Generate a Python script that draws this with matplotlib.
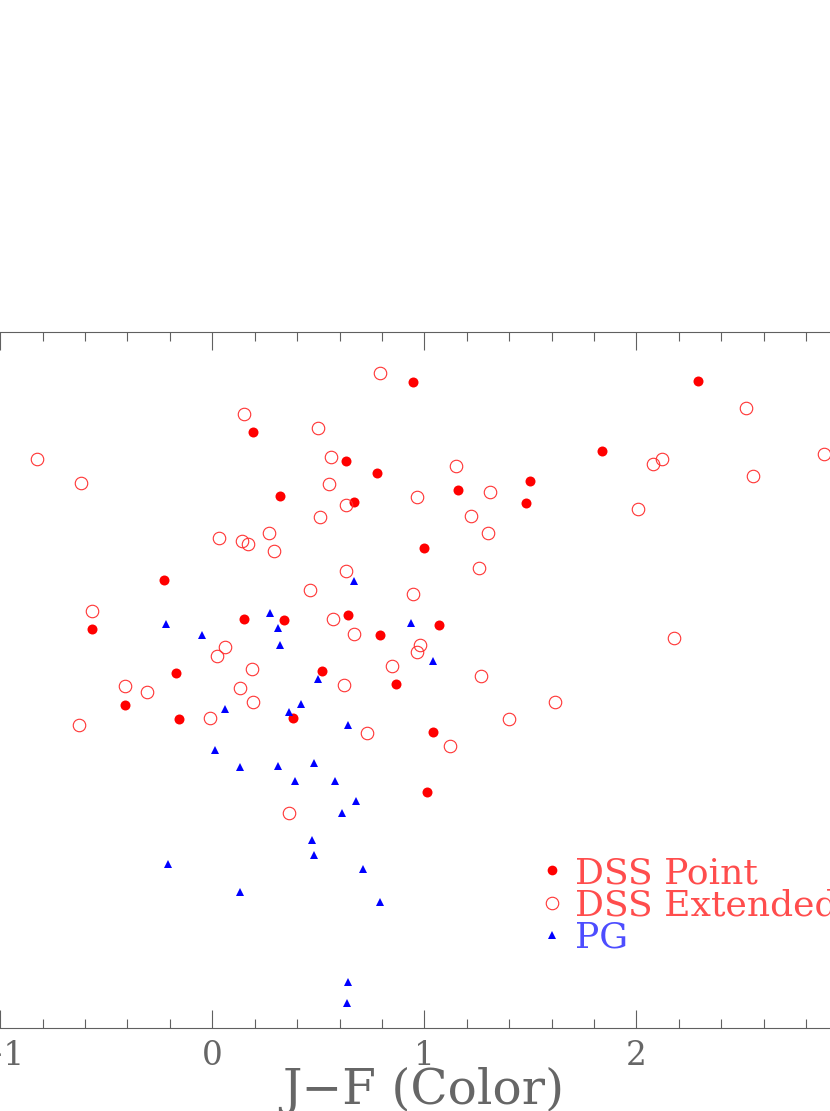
import numpy as np
import matplotlib
matplotlib.use("Agg")
import matplotlib.pyplot as plt

# DSS point sources (filled circles)
pt_x = [0.191, 0.631, 0.778, 0.321, 0.670, 0.948, 2.290, 1.840, 1.499, 1.159,
        1.480, 1.000, -0.229, -0.569, 0.151, 0.340, 0.640, 0.790, 1.069, 0.519,
        0.868, -0.170, -0.410, -0.158, 0.379, 1.040, 1.011]
pt_y = [8.563, 8.151, 7.970, 7.648, 7.562, 9.282, 9.296, 8.286, 7.864, 7.725,
        7.547, 6.901, 6.432, 5.737, 5.872, 5.862, 5.930, 5.642, 5.786, 5.134,
        4.947, 5.101, 4.641, 4.440, 4.450, 4.257, 3.391]

# DSS extended sources (open circles)
ext_x = [-0.828, -0.619, 0.150, 0.500, 0.558, 0.549, 0.629, 0.790, 0.964, 0.509,
         2.517, 1.150, 2.120, 2.079, 2.887, 2.549, 1.310, 2.008, 1.219, 0.030,
         0.140, 0.170, 0.269, 0.290, 0.629, 0.459, 0.949, -0.569, 0.571, 0.670,
         0.060, 0.021, 0.189, 0.849, 0.980, 0.964, 0.620, -0.410, -0.309, 0.131,
         0.191, -0.011, -0.630, 0.730, 1.300, 1.259, 2.179, 1.269, 1.618, 1.400,
         1.120, 0.360]
ext_y = [8.171, 7.826, 8.818, 8.616, 8.208, 7.820, 7.514, 9.415, 7.629, 7.335,
         8.912, 8.075, 8.180, 8.103, 8.251, 7.935, 7.701, 7.453, 7.356, 7.036,
         6.997, 6.950, 7.108, 6.849, 6.570, 6.289, 6.240, 5.991, 5.872, 5.657,
         5.478, 5.341, 5.162, 5.197, 5.499, 5.398, 4.932, 4.918, 4.828, 4.881,
         4.684, 4.454, 4.349, 4.239, 7.116, 6.609, 5.603, 5.053, 4.688, 4.435,
         4.056, 3.085]

# PG objects (triangles)
pg_x = [0.670, -0.220, -0.050, 0.271, 0.310, 0.939, 0.321, 0.500, 0.061, 0.420,
        0.360, 0.640, 0.011, 0.131, 0.310, 0.480, 0.390, 0.580, 0.679, 0.610,
        0.470, 0.480, -0.209, 0.711, 0.131, 0.790, 0.640, 0.634, 1.040]
pg_y = [6.422, 5.805, 5.651, 5.958, 5.751, 5.819, 5.499, 5.014, 4.583, 4.651,
        4.545, 4.353, 3.994, 3.750, 3.764, 3.812, 3.545, 3.545, 3.261, 3.093,
        2.697, 2.481, 2.356, 2.280, 1.954, 1.806, 0.668, 0.364, 5.273]

legend_labels = ["DSS Point", "DSS Extended", "PG"]
tick_vals = [-1, 0, 1, 2]
tick_labels = ["\u22121", "0", "1", "2"]
xlabel = "J\u2212F (Color)"

fig = plt.figure(figsize=(8.3, 11.11), dpi=100)
# axes runs off the left and right edges of the page (cropped plot)
ax = fig.add_axes([-0.12735, 0.07471, 1.27711, 0.62646])

ax.plot(pt_x, pt_y, "o", ms=7.2, mfc="red", mec="red", mew=0, ls="none")
ax.plot(ext_x, ext_y, "o", ms=9.0, mfc="none", mec="#ff3333", mew=0.8, ls="none")
ax.plot(pg_x, pg_y, "^", ms=6.0, mfc="blue", mec="blue", mew=0, ls="none")

ax.set_xlim(-1.5, 3.5)
ax.set_ylim(0, 10)
ax.set_xticks(tick_vals)
ax.set_xticklabels(tick_labels)
ax.set_xticks(np.arange(-1.4, 3.5, 0.2), minor=True)
ax.set_yticks([])
ax.tick_params(axis="x", which="both", direction="in", top=True, color="#606060",
               width=0.8, labelcolor="#666666", labelsize=23.5, pad=8.5)
ax.tick_params(axis="x", which="major", length=13.2)
ax.tick_params(axis="x", which="minor", length=6.5)
for lbl in ax.get_xticklabels():
    lbl.set_family("DejaVu Serif")
for s in ax.spines.values():
    s.set_color("#606060")
    s.set_linewidth(0.8)

fig.text(423.5 / 830, 1 - 1104 / 1111, xlabel, ha="center", va="baseline",
         family="DejaVu Serif", fontsize=35, color="#666666")

# hand-drawn legend, like the original
leg_rows = [(870, 883.5), (903, 915), (935, 947)]
leg_styles = [dict(marker="o", ms=7.0, mfc="red", mec="red", mew=0),
              dict(marker="o", ms=9.0, mfc="none", mec="#ff3333", mew=0.8),
              dict(marker="^", ms=5.5, mfc="blue", mec="blue", mew=0)]
leg_colors = ["#ff4d4d", "#ff4d4d", "#4d4dff"]
for (my, ty), st, lab, c in zip(leg_rows, leg_styles, legend_labels, leg_colors):
    ax.plot([552 / 830], [1 - my / 1111], transform=fig.transFigure,
            clip_on=False, ls="none", **st)
    fig.text(575 / 830, 1 - ty / 1111, lab, ha="left", va="baseline",
             family="DejaVu Serif", fontsize=26, color=c)

fig.savefig("out.png", dpi=100)
